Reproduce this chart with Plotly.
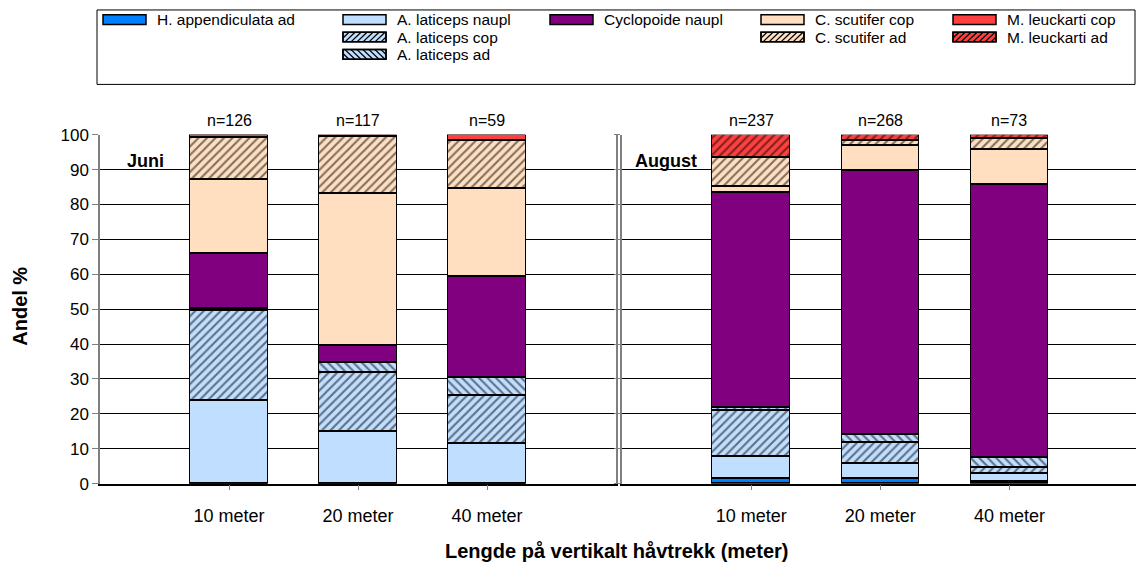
import plotly.graph_objects as go

# Zooplankton composition (%) per haul length, June and August
depths = ["10 meter", "20 meter", "40 meter"]
months = ["Juni", "August"]
n_juni = [126, 117, 59]
n_august = [237, 268, 73]

h_app_ad_juni = [0, 0, 0]
h_app_ad_aug = [1.5, 1.3, 0.6]
a_lat_naupl_juni = [23.7, 14.9, 11.6]
a_lat_naupl_aug = [6.3, 4.5, 2.2]
a_lat_cop_juni = [25.8, 16.8, 13.6]
a_lat_cop_aug = [13.1, 5.9, 1.7]
a_lat_ad_juni = [0.7, 3.0, 5.1]
a_lat_ad_aug = [1.0, 2.2, 3.0]
cyclo_naupl_juni = [15.6, 4.8, 29.1]
cyclo_naupl_aug = [61.5, 75.9, 78.2]
c_scut_cop_juni = [21.2, 43.6, 25.2]
c_scut_cop_aug = [1.8, 7.1, 9.9]
c_scut_ad_juni = [12.2, 16.3, 13.8]
c_scut_ad_aug = [8.3, 1.4, 3.2]
m_leuck_cop_juni = [0.8, 0, 1.6]
m_leuck_cop_aug = [0, 0, 0]
m_leuck_ad_juni = [0, 0.6, 0]
m_leuck_ad_aug = [6.5, 1.7, 1.2]

y_ticks = [0, 10, 20, 30, 40, 50, 60, 70, 80, 90, 100]

BLUE = "#0080FF"
PALE = "#C0DEFF"
PURPLE = "#800080"
PEACH = "#FFDFC0"
RED = "#FF4040"
FONT = "Liberation Sans, Arial, sans-serif"

# name, colour, hatch, june values, august values, (legend column, legend row)
series = [
    ("H. appendiculata ad", BLUE, "", h_app_ad_juni, h_app_ad_aug, (0, 0)),
    ("A. laticeps naupl", PALE, "", a_lat_naupl_juni, a_lat_naupl_aug, (1, 0)),
    ("A. laticeps cop", PALE, "/", a_lat_cop_juni, a_lat_cop_aug, (1, 1)),
    ("A. laticeps ad", PALE, "\\", a_lat_ad_juni, a_lat_ad_aug, (1, 2)),
    ("Cyclopoide naupl", PURPLE, "", cyclo_naupl_juni, cyclo_naupl_aug, (2, 0)),
    ("C. scutifer cop", PEACH, "", c_scut_cop_juni, c_scut_cop_aug, (3, 0)),
    ("C. scutifer ad", PEACH, "/", c_scut_ad_juni, c_scut_ad_aug, (3, 1)),
    ("M. leuckarti cop", RED, "", m_leuck_cop_juni, m_leuck_cop_aug, (4, 0)),
    ("M. leuckarti ad", RED, "/", m_leuck_ad_juni, m_leuck_ad_aug, (4, 1)),
]

xpos = list(range(1, len(depths) + 1))
W, H = 1136, 571


def px_x(p):
    return p / W


def px_y(p):
    return 1 - p / H


fig = go.Figure()
for name, color, hatch, vj, va, _ in series:
    pattern = dict(shape=hatch, fgcolor="black", bgcolor=color, size=6,
                   solidity=0.35, fillmode="overlay") if hatch else None
    for vals, xa, ya in [(vj, "x", "y"), (va, "x2", "y2")]:
        fig.add_trace(go.Bar(
            x=xpos, y=vals, name=name, xaxis=xa, yaxis=ya,
            marker=dict(color=color, line=dict(color="black", width=1.5),
                        pattern=pattern),
            width=0.6, showlegend=False, hoverinfo="y+name",
        ))

tick_font = dict(family=FONT, size=17, color="black")
y_dom = [px_y(491), px_y(130)]

common_y = dict(range=[0, 100], tickvals=y_ticks, showgrid=True, gridcolor="black",
                gridwidth=1, showline=True, linecolor="#808080", linewidth=1.5,
                ticks="outside", ticklen=6, tickcolor="#808080", zeroline=False,
                domain=y_dom, tickfont=tick_font)
common_x = dict(tickvals=xpos, ticktext=depths, showgrid=False, showline=True,
                linecolor="black", linewidth=1.5, ticks="outside", ticklen=5,
                tickcolor="#808080", zeroline=False, tickfont=dict(tick_font, size=18),
                ticklabelstandoff=10)

fig.update_layout(
    width=W, height=H, margin=dict(l=0, r=0, t=0, b=0),
    paper_bgcolor="white", plot_bgcolor="white",
    barmode="stack", bargap=0, showlegend=False,
    font=dict(family=FONT, size=16, color="black"),
    xaxis=dict(domain=[px_x(100), px_x(616)], range=[0, 4], anchor="y", **common_x),
    xaxis2=dict(domain=[px_x(622), 1.0], range=[0, 3.98], anchor="y2", **common_x),
    yaxis=dict(anchor="x", mirror=True, **common_y),
    yaxis2=dict(anchor="x2", showticklabels=False, **common_y),
)

# legend frame and keys
LEG_TOP, LEG_BOTTOM, LEG_LEFT = 1, 78, 97
col_text_x = [156, 396, 603, 814, 1006]
row_y = [11, 29, 47]
KEY_W, KEY_H, KEY_GAP = 43, 10, 10
HATCH_STEP = 6

fig.add_shape(type="rect", xref="paper", yref="paper",
              x0=px_x(LEG_LEFT), x1=px_x(W - 1), y0=px_y(LEG_BOTTOM), y1=px_y(LEG_TOP),
              line=dict(color="black", width=1), fillcolor="rgba(0,0,0,0)")


def hatch_path(x0, y0, x1, y1, shape):
    """Diagonal hatch segments clipped to a pixel box, as an SVG path in paper units."""
    parts = []
    w, h = x1 - x0, y1 - y0
    k = -h
    while k < w:
        sx0, sx1 = k, k + h
        sy0, sy1 = 0, h
        if sx0 < 0:
            sy0 += -sx0
            sx0 = 0
        if sx1 > w:
            sy1 -= sx1 - w
            sx1 = w
        if shape == "/":
            p0 = (x0 + sx0, y1 - sy0)
            p1 = (x0 + sx1, y1 - sy1)
        else:
            p0 = (x0 + sx0, y0 + sy0)
            p1 = (x0 + sx1, y0 + sy1)
        parts.append(f"M{px_x(p0[0]):.5f},{px_y(p0[1]):.5f}L{px_x(p1[0]):.5f},{px_y(p1[1]):.5f}")
        k += HATCH_STEP
    return "".join(parts)


for name, color, hatch, _, _, (col, row) in series:
    tx = col_text_x[col]
    cy = row_y[row]
    kx1 = tx - KEY_GAP
    kx0 = kx1 - KEY_W
    ky0, ky1 = cy - KEY_H / 2, cy + KEY_H / 2
    fig.add_shape(type="rect", xref="paper", yref="paper",
                  x0=px_x(kx0), x1=px_x(kx1), y0=px_y(ky1), y1=px_y(ky0),
                  fillcolor=color, line=dict(color="black", width=1.5))
    if hatch:
        fig.add_shape(type="path", xref="paper", yref="paper",
                      path=hatch_path(kx0, ky0, kx1, ky1, hatch),
                      line=dict(color="black", width=1.3))
        fig.add_shape(type="rect", xref="paper", yref="paper",
                      x0=px_x(kx0), x1=px_x(kx1), y0=px_y(ky1), y1=px_y(ky0),
                      fillcolor="rgba(0,0,0,0)", line=dict(color="black", width=1.5))
    fig.add_annotation(x=px_x(tx), y=px_y(cy), xref="paper", yref="paper",
                       xanchor="left", yanchor="middle", text=name, showarrow=False,
                       font=dict(size=15.5), borderpad=0)

# sample sizes above bars
for xa, ns in [("x", n_juni), ("x2", n_august)]:
    for xv, n in zip(xpos, ns):
        fig.add_annotation(x=xv, xref=xa, y=px_y(115), yref="paper", yanchor="middle",
                           text=f"n={n}", showarrow=False, font=dict(size=16))

# month labels inside panels
for xa, m, xl in [("x", months[0], 0.2), ("x2", months[1], 0.09)]:
    fig.add_annotation(x=xl, xref=xa, xanchor="left", y=92.5, yref="y",
                       yanchor="middle", text=f"<b>{m}</b>", showarrow=False,
                       font=dict(size=18), borderpad=0)

fig.add_annotation(x=px_x(616), y=px_y(561), xref="paper", yref="paper",
                   xanchor="center", yanchor="middle",
                   text="<b>Lengde på vertikalt håvtrekk (meter)</b>", showarrow=False,
                   font=dict(size=20))
fig.add_annotation(x=px_x(20), y=px_y(308), xref="paper", yref="paper",
                   xanchor="center", yanchor="middle",
                   text="<b>Andel %</b>", textangle=-90, showarrow=False,
                   font=dict(size=20))

fig.write_html("out.html")
